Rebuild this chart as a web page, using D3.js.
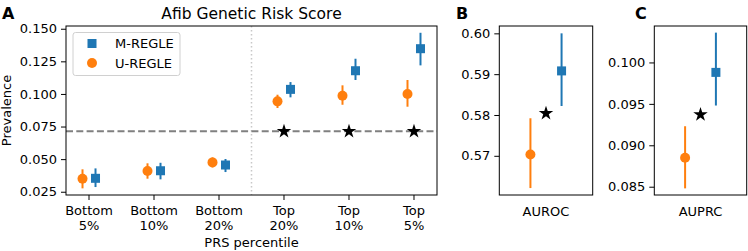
<!DOCTYPE html>
<html>
<head>
<meta charset="utf-8">
<script src="https://cdn.jsdelivr.net/npm/d3@7"></script>
<style>
  body { margin: 0; background: #fff; }
  svg { font-family: "DejaVu Sans", sans-serif; }
</style>
</head>
<body>
<div id="chart"></div>
<script>
// ---- data ----
const categories = ["Bottom\n5%", "Bottom\n10%", "Bottom\n20%", "Top\n20%", "Top\n10%", "Top\n5%"];
const mRegle    = [0.0353, 0.0411, 0.0455, 0.1035, 0.1178, 0.1347];
const mRegleLo  = [0.0286, 0.0345, 0.0401, 0.0974, 0.1107, 0.1219];
const mRegleHi  = [0.0429, 0.0472, 0.0501, 0.1091, 0.1270, 0.1469];
const uRegle    = [0.0350, 0.0409, 0.0475, 0.0943, 0.0986, 0.0999];
const uRegleLo  = [0.0276, 0.0350, 0.0437, 0.0892, 0.0917, 0.0902];
const uRegleHi  = [0.0422, 0.0468, 0.0514, 0.0994, 0.1066, 0.1107];
const baseline  = 0.0713;
const starCats  = [3, 4, 5];
const yTicksA   = [0.025, 0.050, 0.075, 0.100, 0.125, 0.150];

// panel B / C : [point, lo, hi]
const aurocM = [0.5908, 0.5822, 0.6000];
const aurocU = [0.5703, 0.5621, 0.5792];
const aurocStar = 0.5804;
const yTicksB = [0.57, 0.58, 0.59, 0.60];
const auprcM = [0.0988, 0.0948, 0.1036];
const auprcU = [0.0885, 0.0848, 0.0923];
const auprcStar = 0.0937;
const yTicksC = [0.085, 0.090, 0.095, 0.100];

const BLUE = "#1f77b4", ORANGE = "#ff7f0e";

const svg = d3.select("#chart").append("svg")
  .attr("width", 748).attr("height", 251);

function spines(g, x0, x1, y0, y1) {
  g.append("rect").attr("x", x0).attr("y", y0)
    .attr("width", x1 - x0).attr("height", y1 - y0)
    .attr("fill", "none").attr("stroke", "#000").attr("stroke-width", 1);
}

function yAxis(g, y, ticks, fmt, x0) {
  const ax = g.append("g").attr("transform", `translate(${x0},0)`)
    .call(d3.axisLeft(y).tickValues(ticks).tickFormat(d3.format(fmt)).tickSize(5).tickPadding(4).tickSizeOuter(0));
  ax.select(".domain").remove();
  ax.selectAll("text").style("font-size", "13px").attr("fill", "#000").attr("font-family", "DejaVu Sans");
  ax.selectAll("line").attr("stroke", "#000");
}

function errbar(g, x, y, lo, hi, color) {
  g.append("line").attr("x1", x).attr("x2", x).attr("y1", y(lo)).attr("y2", y(hi))
    .attr("stroke", color).attr("stroke-width", 2);
}
function square(g, x, yv, color) {
  g.append("rect").attr("x", x - 4.5).attr("y", yv - 4.5).attr("width", 9).attr("height", 9).attr("fill", color);
}
function circle(g, x, yv, color) {
  g.append("circle").attr("cx", x).attr("cy", yv).attr("r", 5).attr("fill", color);
}
const star = d3.symbol().type(d3.symbolStar).size(65);
function drawStar(g, x, yv) {
  g.append("path").attr("d", star).attr("transform", `translate(${x},${yv})`).attr("fill", "#000");
}

// ---------------- Panel A ----------------
{
  const L = 66, R = 437, T = 26, B = 195;
  const x = d3.scaleLinear().domain([-0.354, 5.354]).range([L, R]);
  const y = d3.scaleLinear().domain([0.0225, 0.1521]).range([B, T]);
  const g = svg.append("g");

  // dotted separator
  g.append("line").attr("x1", x(2.5)).attr("x2", x(2.5)).attr("y1", T).attr("y2", B)
    .attr("stroke", "#c8c8c8").attr("stroke-width", 1.5).attr("stroke-dasharray", "1.5,2.5");
  // baseline
  g.append("line").attr("x1", L).attr("x2", R).attr("y1", y(baseline)).attr("y2", y(baseline))
    .attr("stroke", "#808080").attr("stroke-width", 2).attr("stroke-dasharray", "7,3.3");

  categories.forEach((c, i) => {
    errbar(g, x(i - 0.1), y, uRegleLo[i], uRegleHi[i], ORANGE);
    circle(g, x(i - 0.1), y(uRegle[i]), ORANGE);
    errbar(g, x(i + 0.1), y, mRegleLo[i], mRegleHi[i], BLUE);
    square(g, x(i + 0.1), y(mRegle[i]), BLUE);
  });
  starCats.forEach(i => drawStar(g, x(i), y(baseline)));

  spines(g, L, R, T, B);
  yAxis(g, y, yTicksA, ".3f", L);

  // x ticks
  const xt = g.append("g");
  categories.forEach((c, i) => {
    xt.append("line").attr("x1", x(i)).attr("x2", x(i)).attr("y1", B).attr("y2", B + 5).attr("stroke", "#000");
    const t = xt.append("text").attr("x", x(i)).attr("text-anchor", "middle").style("font-size", "13px");
    c.split("\n").forEach((s, k) => t.append("tspan").attr("x", x(i)).attr("y", 215 + k * 15).text(s));
  });

  g.append("text").attr("x", (L + R) / 2).attr("y", 247).attr("text-anchor", "middle")
    .style("font-size", "13px").text("PRS percentile");
  g.append("text").attr("transform", `translate(11,${(T + B) / 2}) rotate(-90)`)
    .attr("text-anchor", "middle").style("font-size", "13px").text("Prevalence");
  g.append("text").attr("x", (L + R) / 2).attr("y", 19).attr("text-anchor", "middle")
    .style("font-size", "15.5px").text("Afib Genetic Risk Score");
  g.append("text").attr("x", 2).attr("y", 19).style("font-size", "16px").style("font-weight", "bold").text("A");

  // legend
  const lg = g.append("g");
  lg.append("rect").attr("x", 73).attr("y", 32.5).attr("width", 107).attr("height", 43).attr("rx", 2.5)
    .attr("fill", "#fff").attr("fill-opacity", 0.8).attr("stroke", "#d0d0d0").attr("stroke-width", 1);
  square(lg, 92, 43.5, BLUE);
  circle(lg, 92, 63, ORANGE);
  lg.append("text").attr("x", 115).attr("y", 48).style("font-size", "13px").text("M-REGLE");
  lg.append("text").attr("x", 115).attr("y", 67.5).style("font-size", "13px").text("U-REGLE");
}

// ---------------- Panels B and C ----------------
function smallPanel(L, R, yDomain, ticks, fmt, mv, uv, sv, label, letter, letterX) {
  const T = 26, B = 195;
  const x = d3.scaleLinear().domain([-0.6, 0.6]).range([L, R]);
  const y = d3.scaleLinear().domain(yDomain).range([B, T]);
  const g = svg.append("g");
  errbar(g, x(-0.2), y, uv[1], uv[2], ORANGE);
  circle(g, x(-0.2), y(uv[0]), ORANGE);
  errbar(g, x(0.2), y, mv[1], mv[2], BLUE);
  square(g, x(0.2), y(mv[0]), BLUE);
  drawStar(g, x(0), y(sv));
  spines(g, L, R, T, B);
  yAxis(g, y, ticks, fmt, L);
  g.append("text").attr("x", x(0)).attr("y", 216).attr("text-anchor", "middle")
    .style("font-size", "13px").text(label);
  g.append("text").attr("x", letterX).attr("y", 19).style("font-size", "16px").style("font-weight", "bold").text(letter);
}
smallPanel(499.3, 592.7, [0.5604, 0.6018], yTicksB, ".2f", aurocM, aurocU, aurocStar, "AUROC", "B", 456);
smallPanel(654.3, 746.7, [0.0840, 0.1044], yTicksC, ".3f", auprcM, auprcU, auprcStar, "AUPRC", "C", 635);
</script>
</body>
</html>
